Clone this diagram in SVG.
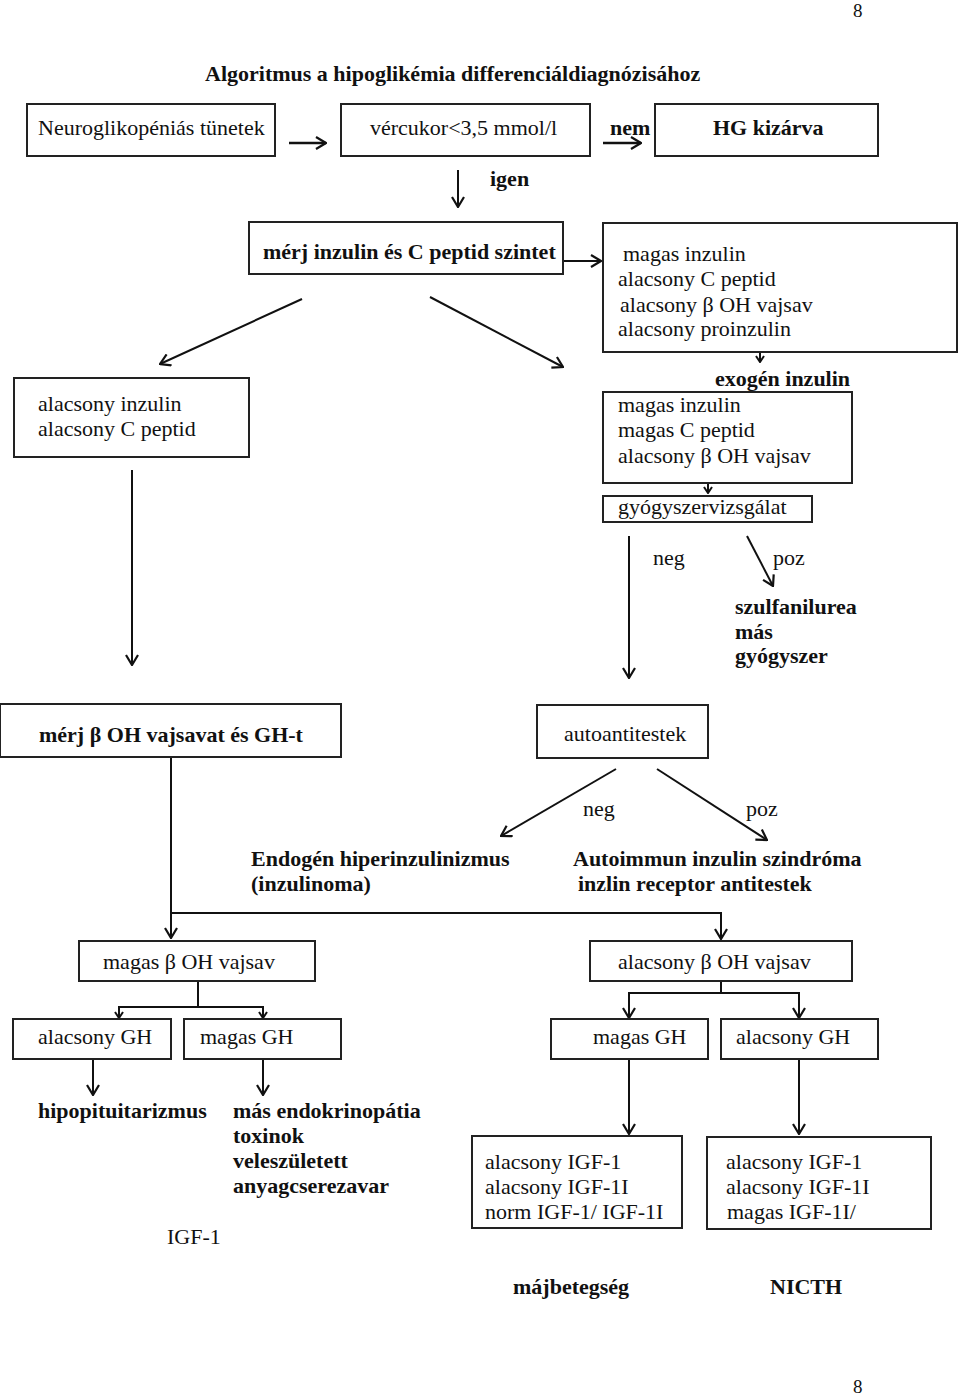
<svg xmlns="http://www.w3.org/2000/svg" width="960" height="1396" viewBox="0 0 960 1396">
<style>
text{font-family:"Liberation Serif","Times New Roman",serif;font-size:22px;fill:#111}
.b{font-weight:bold}
.box{fill:#fff;stroke:#222;stroke-width:2}
.c{fill:none;stroke:#111;stroke-width:2}
.a{marker-end:url(#arr)}
.s{marker-end:url(#sm)}
</style>
<defs>
<marker id="arr" markerUnits="userSpaceOnUse" viewBox="0 0 12 14" refX="11" refY="7" markerWidth="12" markerHeight="14" orient="auto">
<path d="M1,1 L11,7 L1,13" fill="none" stroke="#111" stroke-width="2.2"/>
</marker>
<marker id="sm" markerUnits="userSpaceOnUse" viewBox="0 0 8 10" refX="7" refY="5" markerWidth="8" markerHeight="10" orient="auto">
<path d="M1,1 L7,5 L1,9" fill="none" stroke="#111" stroke-width="2"/>
</marker>
</defs>
<rect width="960" height="1396" fill="#fff"/>
<text x="853" y="17" style="font-size:19px">8</text>
<text class="b" x="205" y="81">Algoritmus a hipoglikémia differenciáldiagnózisához</text>

<g id="connectors">
<line class="c a" x1="289" y1="143" x2="326" y2="143" style="stroke-width:2.5"/>
<line class="c a" x1="603" y1="143" x2="641" y2="143" style="stroke-width:2.5"/>
<line class="c a" x1="458" y1="170" x2="458" y2="207"/>
<line class="c a" x1="563" y1="261" x2="601" y2="261"/>
<line class="c a" x1="302" y1="299" x2="160" y2="364"/>
<line class="c a" x1="430" y1="297" x2="563" y2="367"/>
<line class="c s" x1="760" y1="352" x2="760" y2="362"/>
<line class="c s" x1="708" y1="483" x2="708" y2="493"/>
<line class="c a" x1="629" y1="536" x2="629" y2="678"/>
<line class="c a" x1="747" y1="536" x2="773" y2="586"/>
<line class="c a" x1="132" y1="470" x2="132" y2="665"/>
<line class="c a" x1="616" y1="769" x2="501" y2="836"/>
<line class="c a" x1="657" y1="769" x2="767" y2="840"/>
<polyline class="c" points="171,757 171,913 721,913"/>
<line class="c a" x1="171" y1="912" x2="171" y2="938"/>
<line class="c a" x1="721" y1="912" x2="721" y2="939"/>
<line class="c" x1="198" y1="981" x2="198" y2="1007"/>
<line class="c" x1="119" y1="1007" x2="263" y2="1007"/>
<line class="c s" x1="119" y1="1006" x2="119" y2="1018"/>
<line class="c s" x1="263" y1="1006" x2="263" y2="1018"/>
<line class="c a" x1="93" y1="1059" x2="93" y2="1095"/>
<line class="c a" x1="263" y1="1059" x2="263" y2="1095"/>
<line class="c" x1="721" y1="981" x2="721" y2="993"/>
<line class="c" x1="629" y1="993" x2="799" y2="993"/>
<line class="c a" x1="629" y1="992" x2="629" y2="1018"/>
<line class="c a" x1="799" y1="992" x2="799" y2="1018"/>
<line class="c a" x1="629" y1="1059" x2="629" y2="1134"/>
<line class="c a" x1="799" y1="1059" x2="799" y2="1134"/>
</g>

<g id="n-neuro"><rect class="box" x="27" y="104" width="248" height="52"/><text x="38" y="135">Neuroglikopéniás tünetek</text></g>
<g id="n-vercukor"><rect class="box" x="341" y="104" width="249" height="52"/><text x="370" y="135">vércukor&lt;3,5 mmol/l</text></g>
<g id="l-nem"><text class="b" x="610" y="135">nem</text></g>
<g id="n-hg"><rect class="box" x="655" y="104" width="223" height="52"/><text class="b" x="713" y="135">HG kizárva</text></g>
<g id="l-igen"><text class="b" x="490" y="186">igen</text></g>

<g id="n-merj1"><rect class="box" x="249" y="222" width="314" height="52"/><text class="b" x="263" y="259">mérj inzulin és C peptid szintet</text></g>
<g id="n-magas1"><rect class="box" x="603" y="223" width="354" height="129"/>
<text x="623" y="261">magas inzulin</text>
<text x="618" y="286">alacsony C peptid</text>
<text x="620" y="312">alacsony β OH vajsav</text>
<text x="618" y="336">alacsony proinzulin</text></g>
<g id="n-alacsony1"><rect class="box" x="14" y="378" width="235" height="79"/>
<text x="38" y="411">alacsony inzulin</text>
<text x="38" y="436">alacsony C peptid</text></g>
<g id="l-exogen"><text class="b" x="715" y="386">exogén inzulin</text></g>
<g id="n-magas2"><rect class="box" x="603" y="392" width="249" height="91"/>
<text x="618" y="412">magas inzulin</text>
<text x="618" y="437">magas C peptid</text>
<text x="618" y="463">alacsony β OH vajsav</text></g>
<g id="n-gyogy"><rect class="box" x="603" y="496" width="209" height="26"/><text x="618" y="514">gyógyszervizsgálat</text></g>
<g id="l-neg1"><text x="653" y="565">neg</text></g>
<g id="l-poz1"><text x="773" y="565">poz</text></g>
<g id="n-szulf"><text class="b" x="735" y="614">szulfanilurea</text><text class="b" x="735" y="639">más</text><text class="b" x="735" y="663">gyógyszer</text></g>

<g id="n-merj2"><rect class="box" x="0" y="704" width="341" height="53"/><text class="b" x="39" y="742">mérj β OH vajsavat és GH-t</text></g>
<g id="n-auto"><rect class="box" x="537" y="705" width="171" height="53"/><text x="564" y="741">autoantitestek</text></g>
<g id="l-neg2"><text x="583" y="816">neg</text></g>
<g id="l-poz2"><text x="746" y="816">poz</text></g>
<g id="n-endogen"><text class="b" x="251" y="866">Endogén hiperinzulinizmus</text><text class="b" x="251" y="891">(inzulinoma)</text></g>
<g id="n-autoimmun"><text class="b" x="573" y="866">Autoimmun inzulin szindróma</text><text class="b" x="578" y="891">inzlin receptor antitestek</text></g>

<g id="n-magasb"><rect class="box" x="79" y="941" width="236" height="40"/><text x="103" y="969">magas β OH vajsav</text></g>
<g id="n-alacsonyb"><rect class="box" x="590" y="941" width="262" height="40"/><text x="618" y="969">alacsony β OH vajsav</text></g>
<g id="n-agh1"><rect class="box" x="13" y="1019" width="158" height="40"/><text x="38" y="1044">alacsony GH</text></g>
<g id="n-mgh1"><rect class="box" x="184" y="1019" width="157" height="40"/><text x="200" y="1044">magas GH</text></g>
<g id="n-mgh2"><rect class="box" x="551" y="1019" width="157" height="40"/><text x="593" y="1044">magas GH</text></g>
<g id="n-agh2"><rect class="box" x="721" y="1019" width="157" height="40"/><text x="736" y="1044">alacsony GH</text></g>

<g id="n-hipo"><text class="b" x="38" y="1118">hipopituitarizmus</text></g>
<g id="n-mas"><text class="b" x="233" y="1118">más endokrinopátia</text><text class="b" x="233" y="1143">toxinok</text><text class="b" x="233" y="1168">veleszületett</text><text class="b" x="233" y="1193">anyagcserezavar</text></g>
<g id="l-igf"><text x="167" y="1244">IGF-1</text></g>
<g id="n-igf1"><rect class="box" x="472" y="1136" width="210" height="92"/>
<text x="485" y="1169">alacsony IGF-1</text>
<text x="485" y="1194">alacsony IGF-1I</text>
<text x="485" y="1219">norm IGF-1/ IGF-1I</text></g>
<g id="n-igf2"><rect class="box" x="707" y="1137" width="224" height="92"/>
<text x="726" y="1169">alacsony IGF-1</text>
<text x="726" y="1194">alacsony IGF-1I</text>
<text x="727" y="1219">magas IGF-1I/</text></g>
<g id="n-maj"><text class="b" x="513" y="1294">májbetegség</text></g>
<g id="n-nicth"><text class="b" x="770" y="1294">NICTH</text></g>
<text x="853" y="1393" style="font-size:19px">8</text>
</svg>
